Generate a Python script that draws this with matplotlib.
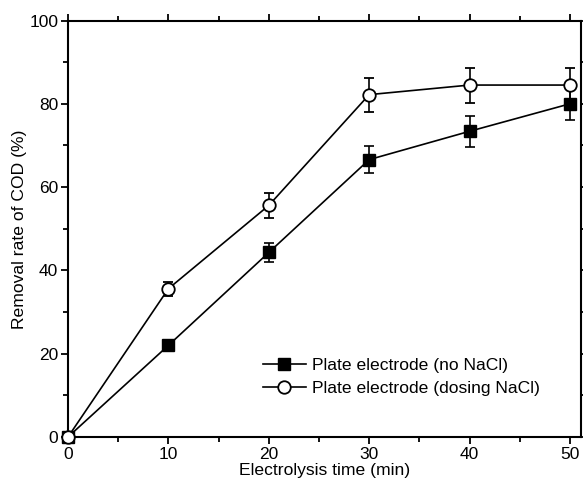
import numpy as np
import matplotlib
matplotlib.use("Agg")
import matplotlib.pyplot as plt
from matplotlib.ticker import MultipleLocator

# data
time = [0, 10, 20, 30, 40, 50]
no_nacl = [0, 22.0, 44.3, 66.6, 73.4, 80.0]
no_nacl_err = [0, 0.6, 2.2, 3.3, 3.7, 3.8]
dosing_nacl = [0, 35.6, 55.6, 82.2, 84.5, 84.5]
dosing_nacl_err = [0, 1.7, 2.9, 4.1, 4.2, 4.2]

plt.rcParams['font.family'] = ['Liberation Sans', 'DejaVu Sans']

fig = plt.figure(figsize=(5.83, 4.86), dpi=100)
ax = fig.add_axes([68 / 583, 1 - 437 / 486, (581 - 68) / 583, (437 - 20.5) / 486])

eb1 = ax.errorbar(time, no_nacl, yerr=no_nacl_err, color='black', lw=1.2,
                  marker='s', ms=8.5, mfc='black', mec='black',
                  elinewidth=1.2, capsize=3.5, capthick=1.2, zorder=3)
eb2 = ax.errorbar(time, dosing_nacl, yerr=dosing_nacl_err, color='black', lw=1.2,
                  marker='o', ms=9, mfc='white', mec='black', mew=1.3,
                  elinewidth=1.2, capsize=3.5, capthick=1.2, zorder=3)
# markers at t=0 sit on the axes corner, keep them whole
for eb in (eb1, eb2):
    eb[0].set_clip_on(False)

ax.set_xlim(0, 51.1)
ax.set_ylim(0, 100)
ax.xaxis.set_major_locator(MultipleLocator(10))
ax.xaxis.set_minor_locator(MultipleLocator(5))
ax.yaxis.set_major_locator(MultipleLocator(20))
ax.yaxis.set_minor_locator(MultipleLocator(10))
ax.tick_params(which='both', direction='out', width=1.3, labelsize=12.5,
               top=True, right=True, pad=2)
ax.tick_params(which='major', length=5)
ax.tick_params(which='minor', length=3.5)
for s in ax.spines.values():
    s.set_linewidth(1.5)

ax.set_xlabel('Electrolysis time (min)', fontsize=12.6, labelpad=1)
ax.set_ylabel('Removal rate of COD (%)', fontsize=12.6, labelpad=1.5)

ax.legend([eb1[0], eb2[0]],
          ['Plate electrode (no NaCl)', 'Plate electrode (dosing NaCl)'],
          loc='center left', bbox_to_anchor=(0.38, 0.145), frameon=False,
          fontsize=12.6, handlelength=2.45, handletextpad=0.35,
          labelspacing=0.45, borderpad=0, borderaxespad=0)

fig.savefig('out.png', dpi=100)
